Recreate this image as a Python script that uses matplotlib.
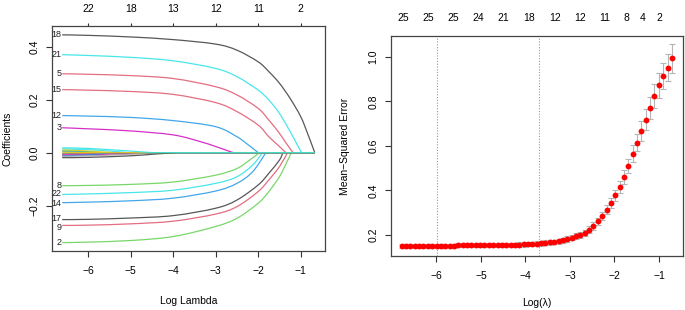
import matplotlib
matplotlib.use("Agg")
import matplotlib.pyplot as plt
import numpy as np
from matplotlib.path import Path
from matplotlib.patches import PathPatch

plt.rcParams["font.family"] = ["Liberation Sans", "DejaVu Sans"]

# ---- left panel: lasso coefficient paths (knots) ----
path_x = {
    "18": [-6.61, -6, -5, -4, -3, -2.5, -2, -1.75, -1.5, -1.25, -1, -0.84, -0.67],
    "5":  [-6.61, -6, -5, -4, -3, -2.5, -2, -1.75, -1.5, -1.34, -1.18],
    "15": [-6.61, -6, -5, -4, -3, -2.5, -2, -1.75, -1.5, -1.35],
    "12": [-6.61, -6, -5, -4, -3, -2.5, -2.28, -2.0],
    "3":  [-6.61, -6, -5, -4, -3.37, -3, -2.59],
    "8":  [-6.61, -6, -5, -4, -3, -2.5, -2.2, -1.97],
    "22": [-6.61, -6, -5, -4, -3, -2.5, -2.13, -1.9],
    "14": [-6.61, -6, -5, -4, -3, -2.5, -2.13, -1.82],
    "17": [-6.61, -6, -5, -4, -3, -2.5, -2, -1.75, -1.5, -1.42],
    "9":  [-6.61, -6, -5, -4, -3, -2.5, -2, -1.75, -1.5, -1.31],
    "2":  [-6.61, -6, -5, -4, -3, -2.5, -2, -1.75, -1.5, -1.34, -1.22],
    "21": [-6.61, -6, -5, -4, -3, -2.5, -2, -1.75, -1.5, -1.25, -1.1, -0.98],
}
path_y = {
    "18": [0.445, 0.443, 0.437, 0.427, 0.410, 0.387, 0.343, 0.306, 0.262, 0.205, 0.136, 0.073, 0],
    "5":  [0.298, 0.296, 0.291, 0.280, 0.249, 0.218, 0.167, 0.123, 0.073, 0.035, 0],
    "15": [0.238, 0.236, 0.231, 0.220, 0.189, 0.155, 0.104, 0.060, 0.023, 0],
    "12": [0.140, 0.138, 0.133, 0.121, 0.098, 0.060, 0.035, 0],
    "3":  [0.094, 0.090, 0.082, 0.067, 0.042, 0.023, 0],
    "8":  [-0.125, -0.124, -0.120, -0.111, -0.085, -0.060, -0.028, 0],
    "22": [-0.158, -0.156, -0.151, -0.142, -0.116, -0.091, -0.047, 0],
    "14": [-0.189, -0.187, -0.182, -0.172, -0.145, -0.116, -0.072, 0],
    "17": [-0.253, -0.252, -0.247, -0.238, -0.210, -0.179, -0.122, -0.078, -0.028, 0],
    "9":  [-0.275, -0.274, -0.269, -0.259, -0.232, -0.204, -0.147, -0.103, -0.053, 0],
    "2":  [-0.340, -0.338, -0.332, -0.317, -0.279, -0.248, -0.191, -0.147, -0.091, -0.040, 0],
    "21": [0.370, 0.367, 0.360, 0.347, 0.318, 0.287, 0.236, 0.199, 0.148, 0.080, 0.035, 0],
}
# small nudges so neighbouring labels do not sit on each other
label_nudge = {"17": 0.006, "9": -0.006, "22": 0.002, "14": -0.003}

# small coefficients that drop out early (no labels in the picture)
small_x = [
    [-6.61, -6.0, -5.5, -5.05],
    [-6.61, -6.0, -5.4],
    [-6.61, -6.1, -5.7],
    [-6.61, -6.2, -5.9],
    [-6.61, -6.0, -5.0, -4.3],
    [-6.61, -6.0, -5.2, -4.6],
    [-6.61, -6.0, -5.3, -4.7],
    [-6.61, -6.3, -6.0],
    [-6.61, -6.0, -5.5],
    [-6.61, -6.0, -5.0, -4.5],
    [-6.61, -6.0, -5.0, -4.4, -3.9],
    [-6.61, -6.4, -6.2],
    [-6.61, -6.0, -5.2, -4.5],
]
small_y = [
    [0.014, 0.011, 0.006, 0],
    [0.010, 0.006, 0],
    [0.007, 0.004, 0],
    [0.004, 0.002, 0],
    [-0.003, -0.003, -0.002, 0],
    [-0.006, -0.005, -0.003, 0],
    [-0.009, -0.008, -0.004, 0],
    [-0.002, -0.001, 0],
    [-0.012, -0.008, 0],
    [-0.014, -0.012, -0.006, 0],
    [-0.019, -0.018, -0.012, -0.005, 0],
    [0.002, 0.001, 0],
    [0.018, 0.016, 0.008, 0],
]
top_left_at = [-6, -5, -4, -3, -2, -1]
top_left_nz = ["22", "18", "13", "12", "11", "2"]

# ---- right panel: cross-validation curve ----
log_lambda = np.linspace(-6.78, -0.71, 63)
mse = [
    0.152, 0.152, 0.152, 0.152, 0.152, 0.152, 0.152, 0.152, 0.152, 0.152,
    0.152, 0.152, 0.152, 0.153, 0.153, 0.153, 0.153, 0.153, 0.153, 0.153,
    0.154, 0.154, 0.154, 0.154, 0.155, 0.155, 0.155, 0.156, 0.157, 0.158,
    0.159, 0.161, 0.163, 0.164, 0.166, 0.168, 0.172, 0.176, 0.181, 0.187,
    0.194, 0.201, 0.210, 0.223, 0.240, 0.261, 0.285, 0.313, 0.343, 0.377,
    0.415, 0.460, 0.510, 0.565, 0.615, 0.667, 0.718, 0.770, 0.825, 0.872,
    0.915, 0.952, 0.993,
]
mse_se = [
    0.009, 0.009, 0.009, 0.009, 0.009, 0.009, 0.009, 0.009, 0.009, 0.009,
    0.009, 0.009, 0.009, 0.009, 0.009, 0.009, 0.009, 0.009, 0.009, 0.009,
    0.010, 0.010, 0.010, 0.010, 0.010, 0.010, 0.010, 0.010, 0.010, 0.010,
    0.010, 0.010, 0.011, 0.011, 0.011, 0.011, 0.011, 0.012, 0.012, 0.012,
    0.013, 0.013, 0.014, 0.015, 0.016, 0.017, 0.019, 0.020, 0.022, 0.025,
    0.027, 0.030, 0.033, 0.037, 0.040, 0.043, 0.047, 0.050, 0.054, 0.057,
    0.059, 0.062, 0.064,
]
top_right_at = [-6.74, -6.18, -5.62, -5.06, -4.49, -3.91, -3.33, -2.77, -2.21, -1.74, -1.37, -0.98]
top_right_nz = ["25", "25", "25", "24", "21", "18", "12", "12", "11", "8", "4", "2"]
lambda_min = -5.98
lambda_1se = -3.70

# R default palette, slightly softened
R_COLS = {"k": "#3a3a3a", "r": "#DF536B", "g": "#61D04F", "b": "#2297E6",
          "c": "#28E2E5", "m": "#CD0BBC", "y": "#F5C710", "gr": "#9e9e9e"}
path_color = {"18": "k", "21": "c", "5": "r", "15": "r", "12": "b", "3": "m",
              "8": "g", "22": "c", "14": "b", "17": "k", "9": "r", "2": "g"}
small_color = ["c", "y", "g", "b", "m", "r", "m", "g", "b", "gr", "k", "y", "c"]

X_END = -0.67
FS = 7.5


def smooth(ax, xs, ys, color):
    # smooth curve through the read knots, then the flat zero tail
    p = np.column_stack([xs, ys]).astype(float)
    n = len(p)
    verts, codes = [p[0]], [Path.MOVETO]
    for i in range(n - 1):
        a = p[i - 1] if i > 0 else p[i]
        d = p[i + 2] if i + 2 < n else p[i + 1]
        verts += [p[i] + (p[i + 1] - a) / 6, p[i + 1] - (d - p[i]) / 6, p[i + 1]]
        codes += [Path.CURVE4] * 3
    if xs[-1] < X_END:
        verts.append([X_END, 0])
        codes.append(Path.LINETO)
    ax.add_patch(PathPatch(Path(verts, codes), fill=False, edgecolor=color,
                           lw=0.9, alpha=0.85))


fig = plt.figure(figsize=(6.85, 3.1), dpi=100)
axl = fig.add_axes([0.0759, 0.19, 0.3985, 0.7258])
axr = fig.add_axes([0.5708, 0.1742, 0.4263, 0.7097])

for key in path_x:
    smooth(axl, path_x[key], path_y[key], R_COLS[path_color[key]])
    axl.text(path_x[key][0] - 0.02, path_y[key][0] + label_nudge.get(key, 0), key,
             ha="right", va="center", fontsize=6.5, color="#222222", clip_on=False)

for xs, ys, c in zip(small_x, small_y, small_color):
    smooth(axl, xs, ys, R_COLS[c])

axl.set_xlim(-6.85, -0.43)
axl.set_ylim(-0.372, 0.478)
axl.set_xticks([-6, -5, -4, -3, -2, -1])
axl.set_yticks([-0.2, 0.0, 0.2, 0.4])
axl.set_yticklabels(["\u22120.2", "0.0", "0.2", "0.4"])
axl.set_xlabel("Log Lambda", fontsize=FS, labelpad=14)
axl.set_ylabel("Coefficients", fontsize=FS, labelpad=12)
secl = axl.secondary_xaxis("top")
secl.set_xticks(top_left_at, top_left_nz)
secl.tick_params(length=2.5, width=0.8, labelsize=FS, pad=6, color="#333333")
secl.spines["top"].set_visible(False)

# right panel
axr.errorbar(log_lambda, mse, yerr=mse_se, fmt="none", ecolor="#b5b5b5",
             elinewidth=0.8, capsize=2.3, capthick=0.8, zorder=2)
axr.plot(log_lambda, mse, "o", color="red", ms=4.2, mec="red", mew=0, zorder=3)
axr.axvline(lambda_min, color="#9a9a9a", ls=(0, (1, 1.5)), lw=0.8, zorder=1)
axr.axvline(lambda_1se, color="#9a9a9a", ls=(0, (1, 1.5)), lw=0.8, zorder=1)
axr.set_xlim(-7.02, -0.46)
axr.set_ylim(0.105, 1.094)
axr.set_xticks([-6, -5, -4, -3, -2, -1])
axr.set_yticks([0.2, 0.4, 0.6, 0.8, 1.0])
axr.set_xlabel("Log(\u03bb)", fontsize=FS, labelpad=12)
axr.set_ylabel("Mean\u2212Squared Error", fontsize=FS, labelpad=13)
secr = axr.secondary_xaxis("top")
secr.set_xticks(top_right_at, top_right_nz)
secr.tick_params(length=0, labelsize=FS, pad=9)
secr.spines["top"].set_visible(False)

for ax in (axl, axr):
    ax.tick_params(direction="out", length=4, width=0.8, labelsize=FS, pad=7,
                   color="#333333")
    ax.tick_params(axis="y", labelrotation=90, pad=5)
    plt.setp(ax.get_yticklabels(), va="center")
    for s in ax.spines.values():
        s.set_linewidth(0.9)
        s.set_color("#444444")

fig.savefig("out.png", dpi=100)
